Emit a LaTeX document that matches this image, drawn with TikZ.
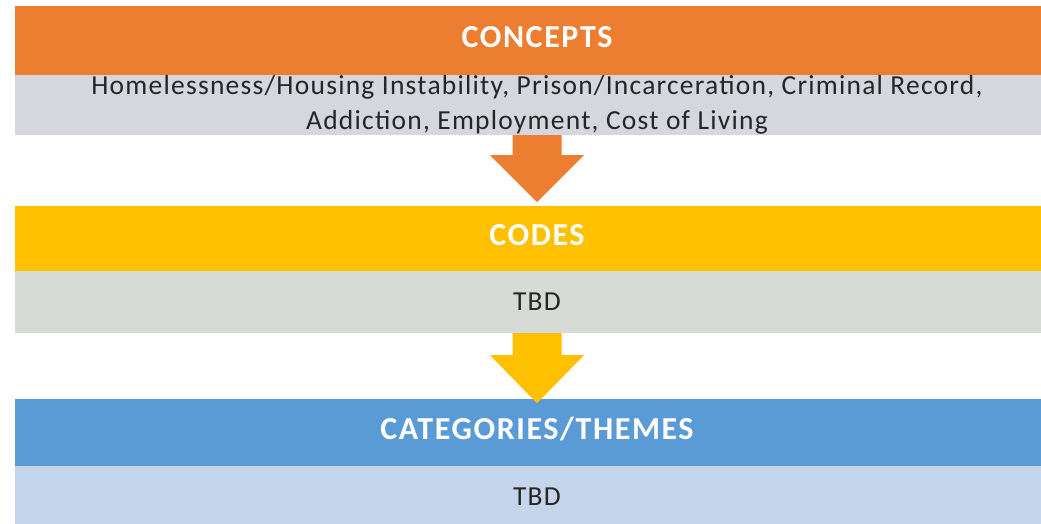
\documentclass[tikz,border=0pt]{standalone}
\usepackage{fontspec}
\setmainfont{Carlito}
\newfontfamily\headfont[LetterSpace=5]{Carlito}
\newfontfamily\bodyfont[LetterSpace=4.5]{Carlito}
\usetikzlibrary{calc}
\definecolor{conorange}{HTML}{ED7D31}
\definecolor{codyellow}{HTML}{FFC000}
\definecolor{catblue}{HTML}{5B9BD5}
\definecolor{congray}{HTML}{D5D6DE}
\definecolor{codgray}{HTML}{D7DBD8}
\definecolor{catlight}{HTML}{C5D5EB}
\tikzset{
  headbar/.style={minimum width=1044pt, inner sep=0pt, text=white,
    text height=20pt, text depth=6pt,
    font=\headfont\fontsize{32}{36}\selectfont\bfseries},
  bodybar/.style={minimum width=1044pt, inner sep=0pt, text=black!85,
    align=center, font=\bodyfont\fontsize{27.5}{35}\selectfont},
}
% block arrow pointing down, from the bottom of a band to its tip
\newcommand{\downblock}[3]{%
  \fill[#3] ($(#1.south)+(-24.5,0)$) -- ($(#1.south)+(24.5,0)$) -- ($(#1.south)+(24.5,#2)$)
    -- ($(#1.south)+(47,#2)$) -- (#1 tip) -- ($(#1.south)+(-47,#2)$)
    -- ($(#1.south)+(-24.5,#2)$) -- cycle;}

\begin{document}
\begin{tikzpicture}[x=1pt, y=-1pt]
            \useasboundingbox (0,0) rectangle (1041,523);
            \begin{scope}
              \clip (0,0) rectangle (1041,523);
              % Concepts
              \node[headbar, fill=conorange, minimum height=69pt] (conhead) at (537,40.5) {CONCEPTS};
              \node[bodybar, fill=congray, minimum height=60pt] (conbody) at (537,105)
                {Homelessness/Housing Instability, Prison/Incarceration, Criminal Record,\\
                 Addiction, Employment, Cost of Living};
  
              % Codes
              \node[headbar, fill=codyellow, minimum height=65pt] (codhead) at (537,238.5) {CODES};
              \node[bodybar, fill=codgray, minimum height=62pt] (codbody) at (537,302) {TBD};
  
              % Categories / themes
              \node[headbar, fill=catblue, minimum height=67pt] (cathead) at (537,432.5) {CATEGORIES/THEMES};
              \node[bodybar, fill=catlight, minimum height=62pt] (catbody) at (537,497) {TBD};
            \end{scope}
  
            % Arrows
            \coordinate (conbody tip) at ($(conbody.south)+(0,67)$);
            \coordinate (codbody tip) at ($(codbody.south)+(0,70)$);
            \downblock{conbody}{20}{conorange}
            \downblock{codbody}{22}{codyellow}
          \end{tikzpicture}
\end{document}
